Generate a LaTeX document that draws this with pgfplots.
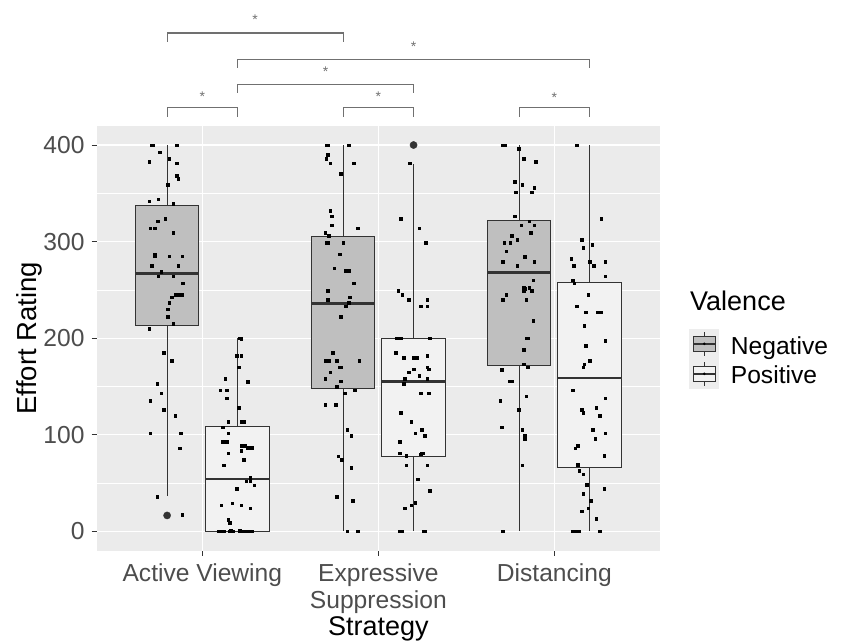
\documentclass[border=0pt]{standalone}
\usepackage{fontspec}
\setmainfont{Liberation Sans}
\usepackage{pgfplots}
\pgfplotsset{compat=1.18}
\usepgfplotslibrary{statistics}
\definecolor{panelbg}{HTML}{EBEBEB}
\definecolor{negfill}{HTML}{BFBFBF}
\definecolor{posfill}{HTML}{F2F2F2}
\definecolor{boxline}{HTML}{333333}
\definecolor{grey30}{HTML}{4D4D4D}
\definecolor{bracketgrey}{HTML}{707070}
\definecolor{keybg}{HTML}{EDEDED}
\begin{document}
\begin{tikzpicture}
\path[use as bounding box] (0,0) rectangle (843pt,642pt);
\begin{axis}[
  at={(96.7pt,91.3pt)}, anchor=south west,
  scale only axis, width=563.3pt, height=425pt,
  xmin=0.4, xmax=3.6, ymin=-20, ymax=420,
  clip=false,
  axis background/.style={fill=panelbg},
  axis line style={draw=none},
  xtick={1,2,3},
  xticklabels={Active Viewing,{Expressive\\Suppression},Distancing},
  ytick={0,100,200,300,400},
  minor ytick={50,150,250,350},
  grid=both,
  major grid style={white, line width=1.1pt},
  minor grid style={white, line width=0.55pt},
  tick align=outside,
  tick pos=left,
  major tick length=5pt,
  minor tick length=0pt,
  tick style={draw=boxline, line width=1pt},
  /pgf/number format/assume math mode=true,
  xticklabel style={font=\fontsize{24.6}{26.7}\selectfont, text=grey30, align=center, anchor=north, inner sep=0pt, yshift=-8pt},
  yticklabel style={font=\fontsize{24.6}{26.7}\selectfont, text=grey30, anchor=east, inner sep=0pt, xshift=-7pt},
  xlabel={Strategy}, ylabel={Effort Rating},
  xlabel style={font=\fontsize{27}{30}\selectfont, at={(axis description cs:0.5,-0.2007)}, anchor=base, inner sep=0pt},
  ylabel style={font=\fontsize{27.5}{30}\selectfont, at={(axis description cs:-0.1065,0.5)}, anchor=base, inner sep=0pt},
  boxplot/draw direction=y,
]
% ---- boxes ----
\addplot[draw=boxline, fill=negfill, line width=1.1pt,
  boxplot prepared={lower whisker=36.5, lower quartile=213.3, median=267, upper quartile=337.8, upper whisker=400, draw position=0.8, box extend=0.36, whisker extend=0},
  boxplot/every median/.style={line width=2.3pt}] coordinates {};
\addplot[draw=boxline, fill=posfill, line width=1.1pt,
  boxplot prepared={lower whisker=0, lower quartile=0, median=54, upper quartile=108.7, upper whisker=200, draw position=1.2, box extend=0.36, whisker extend=0},
  boxplot/every median/.style={line width=2.3pt}] coordinates {};
\addplot[draw=boxline, fill=negfill, line width=1.1pt,
  boxplot prepared={lower whisker=0, lower quartile=148, median=236, upper quartile=305.2, upper whisker=400, draw position=1.8, box extend=0.36, whisker extend=0},
  boxplot/every median/.style={line width=2.3pt}] coordinates {};
\addplot[draw=boxline, fill=posfill, line width=1.1pt,
  boxplot prepared={lower whisker=0, lower quartile=77.4, median=155.2, upper quartile=199.5, upper whisker=380.2, draw position=2.2, box extend=0.36, whisker extend=0},
  boxplot/every median/.style={line width=2.3pt}] coordinates {};
\addplot[draw=boxline, fill=negfill, line width=1.1pt,
  boxplot prepared={lower whisker=0, lower quartile=172, median=268, upper quartile=321.7, upper whisker=400, draw position=2.8, box extend=0.36, whisker extend=0},
  boxplot/every median/.style={line width=2.3pt}] coordinates {};
\addplot[draw=boxline, fill=posfill, line width=1.1pt,
  boxplot prepared={lower whisker=0, lower quartile=66.4, median=158.6, upper quartile=258, upper whisker=400, draw position=3.2, box extend=0.36, whisker extend=0},
  boxplot/every median/.style={line width=2.3pt}] coordinates {};
% ---- outliers ----
\addplot[only marks, mark=*, mark size=3.6pt, color=boxline] coordinates {(0.8,16.5) (2.2,400)};
% ---- jittered points ----
\addplot[only marks, mark=square*, mark size=1.3pt, black] coordinates {
(0.713,400)(0.720,400)(0.855,400)(0.758,392.5)(0.811,386)(0.698,383)(0.855,381)(0.855,368)(0.862,365)(0.803,359)
(0.698,342)(0.750,344)(0.834,339)(0.745,321)(0.788,324)(0.705,314)(0.728,314)(0.834,309)
(0.728,287)(0.728,285)(0.811,285)(0.885,285)(0.713,275)(0.862,275)(0.766,269)(0.750,264)(0.834,264)
(0.885,257)(0.892,257)(0.847,245)(0.862,245)(0.877,245)(0.885,245)(0.826,242.5)(0.811,237)(0.803,230)
(0.803,222)(0.834,215)(0.698,210)(0.781,185)(0.826,177)(0.743,153)(0.766,143)(0.705,135)(0.781,126)
(0.847,120)(0.705,101.5)(0.877,101.5)(0.870,86)(0.743,36)(0.885,17)
};
\addplot[only marks, mark=square*, mark size=1.3pt, black] coordinates {
(1.212,200)(1.220,199.5)(1.197,182)(1.220,182)(1.205,170)(1.131,158)(1.258,155)(1.101,146)(1.138,146)
(1.138,138)(1.205,128)(1.146,113.5)(1.220,113.5)(1.235,113.5)(1.116,108)(1.146,101.5)(1.116,93)(1.138,93)
(1.220,89)(1.242,89)(1.220,83.6)(1.258,86.4)(1.280,86.4)(1.146,81)(1.235,74)(1.123,68.5)(1.273,55.4)
(1.250,52)(1.273,52)(1.295,48)(1.197,44)(1.108,27)(1.169,29)(1.220,27)(1.273,24)(1.146,12)(1.154,9)
(1.093,0)(1.108,0)(1.123,0)(1.154,0)(1.161,0.5)(1.176,0)(1.212,0.5)(1.235,0)(1.258,0)(1.280,0)
};
\addplot[only marks, mark=square*, mark size=1.3pt, black] coordinates {
(1.704,400)(1.712,400)(1.831,400)(1.712,390)(1.704,386)(1.727,381)(1.861,381)(1.787,370)(1.727,332)
(1.734,326.5)(1.734,317)(1.884,314)(1.697,309)(1.719,306)(1.704,299)(1.712,299)(1.801,299)(1.780,287)
(1.749,272.5)(1.816,270)(1.831,270)(1.861,257)(1.712,249)(1.712,240)(1.838,242.5)(1.831,237)(1.816,233)
(1.787,222)(1.742,185)(1.697,177)(1.719,177)(1.765,177)(1.891,177)(1.780,170)(1.787,170)(1.727,165)
(1.697,158)(1.787,155.5)(1.765,150)(1.867,146)(1.808,143)(1.697,131)(1.757,131)(1.823,105)(1.846,99)
(1.772,78)(1.793,74)(1.846,66)(1.765,36)(1.854,32)(1.823,0)(1.884,0)
};
\addplot[only marks, mark=square*, mark size=1.3pt, black] coordinates {
(2.179,381)(2.128,324)(2.232,314)(2.270,299)(2.112,249)(2.135,245)(2.173,240)(2.277,240)(2.239,233)
(2.277,233)(2.105,200)(2.128,200)(2.292,200)(2.097,185)(2.143,180)(2.201,180)(2.217,180)(2.277,182)
(2.173,165)(2.201,168)(2.232,161)(2.277,170)(2.285,168)(2.150,158)(2.143,153)(2.277,158)(2.239,143)
(2.285,143)(2.128,123)(2.186,113.5)(2.247,105)(2.209,101.5)(2.262,99)(2.120,93)(2.120,81)(2.158,78.5)
(2.239,80)(2.247,81)(2.254,81)(2.158,68.5)(2.277,68.5)(2.224,54)(2.292,42)(2.150,24)(2.186,27)(2.209,30)
(2.120,0)(2.135,0)(2.254,0)(2.262,0)
};
\addplot[only marks, mark=square*, mark size=1.3pt, black] coordinates {
(2.705,400)(2.718,400)(2.796,396)(2.826,386)(2.894,383)(2.773,362)(2.818,359)(2.780,351)(2.871,351)
(2.886,356)(2.773,326.5)(2.811,317)(2.856,321)(2.886,317)(2.864,309)(2.758,306)(2.788,302)(2.716,299)
(2.750,299)(2.727,290)(2.833,284.5)(2.708,279)(2.788,275)(2.886,279)(2.879,260)(2.826,252)(2.833,251)
(2.856,252)(2.871,249)(2.826,249)(2.727,245)(2.708,240)(2.841,240)(2.879,218)(2.841,200)(2.849,200)
(2.826,188)(2.826,173)(2.849,170)(2.701,167.6)(2.743,155.5)(2.758,155.5)(2.841,140)(2.693,135)(2.796,126)
(2.701,108)(2.818,105)(2.833,99)(2.833,96)(2.818,68.5)(2.708,0)
};
\addplot[only marks, mark=square*, mark size=1.3pt, black] coordinates {
(3.127,400)(3.267,324)(3.155,302)(3.214,297)(3.163,294)(3.096,282)(3.110,275)(3.200,279)(3.223,275)
(3.289,279)(3.289,264)(3.104,260)(3.112,257)(3.193,245)(3.127,233)(3.178,227)(3.246,227)(3.267,227)
(3.170,213)(3.289,197.5)(3.178,192)(3.200,177)(3.170,173)(3.163,170)(3.104,146)(3.289,138)(3.155,126)
(3.163,123)(3.238,128)(3.259,120)(3.216,105)(3.289,101.5)(3.231,96)(3.132,89)(3.119,86)(3.282,78.5)
(3.132,69)(3.140,63)(3.163,59)(3.185,48.5)(3.282,44)(3.163,39)(3.208,32)(3.193,24)(3.155,21)(3.238,13)
(3.104,0)(3.127,0)(3.140,0)(3.259,0)
};
% ---- significance brackets ----
\addplot[bracketgrey, line width=1.1pt] coordinates {(0.8,429.3) (0.8,438.6) (1.2,438.6) (1.2,429.3)};
\addplot[bracketgrey, line width=1.1pt] coordinates {(1.8,429.3) (1.8,438.6) (2.2,438.6) (2.2,429.3)};
\addplot[bracketgrey, line width=1.1pt] coordinates {(2.8,429.3) (2.8,438.6) (3.2,438.6) (3.2,429.3)};
\addplot[bracketgrey, line width=1.1pt] coordinates {(1.2,454) (1.2,462.7) (2.2,462.7) (2.2,454)};
\addplot[bracketgrey, line width=1.1pt] coordinates {(1.2,479.9) (1.2,488.5) (3.2,488.5) (3.2,479.9)};
\addplot[bracketgrey, line width=1.1pt] coordinates {(0.8,506.7) (0.8,516) (1.8,516) (1.8,506.7)};
\begin{scope}[every node/.style={text=bracketgrey, font=\fontsize{14}{14}\selectfont, anchor=base, inner sep=0pt}]
\node at (axis cs:1.0,445.2) {*};
\node at (axis cs:2.0,445.2) {*};
\node at (axis cs:3.0,443.5) {*};
\node at (axis cs:1.7,471) {*};
\node at (axis cs:2.2,496.8) {*};
\node at (axis cs:1.3,524.3) {*};
\end{scope}
\end{axis}
% ---- legend ----
\fill[keybg] (689.3pt,253.2pt) rectangle (719.3pt,313.2pt);
\draw[boxline, line width=1.1pt] (704.3pt,286.2pt) -- (704.3pt,310.2pt);
\filldraw[fill=negfill, draw=boxline, line width=1.1pt] (693.05pt,290.7pt) rectangle (715.55pt,305.7pt);
\draw[boxline, line width=2pt] (693.05pt,298.2pt) -- (715.55pt,298.2pt);
\fill[black] (704.3pt,298.2pt) circle (1.4pt);
\draw[boxline, line width=1.1pt] (704.3pt,256.2pt) -- (704.3pt,280.2pt);
\filldraw[fill=posfill, draw=boxline, line width=1.1pt] (693.05pt,260.7pt) rectangle (715.55pt,275.7pt);
\draw[boxline, line width=2pt] (693.05pt,268.2pt) -- (715.55pt,268.2pt);
\fill[black] (704.3pt,268.2pt) circle (1.4pt);
\node[anchor=base west, inner sep=0pt, font=\fontsize{27}{30}\selectfont] at (690pt,331.3pt) {Valence};
\node[anchor=base west, inner sep=0pt, font=\fontsize{24.6}{27}\selectfont] at (730.7pt,287.5pt) {Negative};
\node[anchor=base west, inner sep=0pt, font=\fontsize{24.6}{27}\selectfont] at (730.7pt,258.7pt) {Positive};
\end{tikzpicture}
\end{document}
